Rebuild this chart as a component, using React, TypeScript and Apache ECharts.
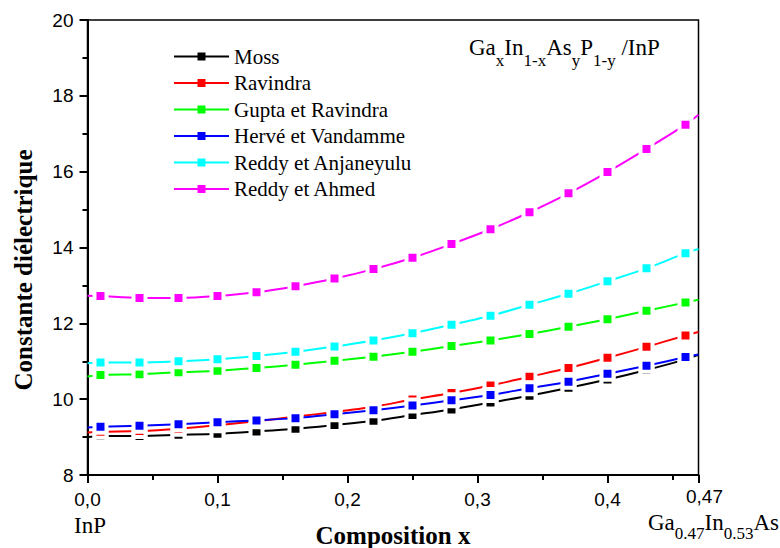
import React, { useEffect, useRef } from 'react';
import * as echarts from 'echarts';

// Composition x of the plotted markers (every 0.03)
const markerX = [0.01, 0.04, 0.07, 0.10, 0.13, 0.16, 0.19, 0.22, 0.25, 0.28, 0.31, 0.34, 0.37, 0.40, 0.43, 0.46];
const xStart = 0;
const xEnd = 0.47;

const seriesNames = ['Moss', 'Ravindra', 'Gupta et Ravindra', 'Hervé et Vandamme', 'Reddy et Anjaneyulu', 'Reddy et Ahmed'];
const seriesColors = ['#000000', '#ff0000', '#00ff00', '#0000ff', '#00ffff', '#ff00ff'];

// values at the markers
const moss = [9.03, 9.03, 9.06, 9.09, 9.15, 9.22, 9.32, 9.43, 9.58, 9.73, 9.91, 10.09, 10.30, 10.52, 10.77, 11.05];
const ravindra = [9.14, 9.16, 9.22, 9.31, 9.42, 9.54, 9.66, 9.80, 9.99, 10.16, 10.36, 10.59, 10.82, 11.09, 11.38, 11.68];
const gupta = [10.64, 10.66, 10.71, 10.75, 10.82, 10.91, 11.01, 11.12, 11.25, 11.40, 11.55, 11.72, 11.91, 12.11, 12.33, 12.55];
const herve = [9.27, 9.30, 9.34, 9.39, 9.44, 9.50, 9.60, 9.71, 9.83, 9.97, 10.11, 10.29, 10.46, 10.67, 10.88, 11.11];
const reddyAnj = [10.97, 10.97, 11.00, 11.05, 11.14, 11.25, 11.39, 11.55, 11.74, 11.96, 12.20, 12.49, 12.78, 13.11, 13.45, 13.85];
const reddyAhm = [12.72, 12.67, 12.67, 12.72, 12.82, 12.98, 13.18, 13.43, 13.73, 14.09, 14.48, 14.93, 15.43, 15.99, 16.60, 17.24];

// curve values at x = 0 (InP) and x = 0.47 (Ga0.47In0.53As)
const startValues = [9.00, 9.12, 10.60, 9.25, 10.95, 12.73];
const endValues = [11.17, 11.77, 12.62, 11.18, 13.96, 17.50];

const seriesValues = [moss, ravindra, gupta, herve, reddyAnj, reddyAhm];

const yTicks = { min: 8, max: 20, interval: 2 };

const SERIF = '"Liberation Serif", "Times New Roman", serif';
const SANS = '"Liberation Sans", Arial, sans-serif';

function fmtX(v: number): string {
  if (Math.abs(v - xEnd) < 1e-9) return '{e|0,47}';
  if (Math.abs(v * 10 - Math.round(v * 10)) < 1e-6) return v.toFixed(1).replace('.', ',');
  return '';
}

export default function App() {
  const ref = useRef<HTMLDivElement>(null);
  useEffect(() => {
    if (!ref.current) return;
    const chart = echarts.init(ref.current, undefined, { renderer: 'svg' });

    const series = seriesNames.map((name, i) => ({
      name,
      type: 'line',
      smooth: 0.3,
      symbol: 'rect',
      symbolSize: 12,
      showSymbol: true,
      lineStyle: { color: seriesColors[i], width: 2 },
      itemStyle: { color: seriesColors[i], borderColor: '#ffffff', borderWidth: 4 },
      emphasis: { disabled: true },
      data: [
        { value: [xStart, startValues[i]], symbol: 'none' },
        ...markerX.map((x, j) => [x, seriesValues[i][j]]),
        { value: [xEnd, endValues[i]], symbol: 'none' },
      ],
      z: 2 + i,
    }));

    const rich = {
      m: { fontFamily: SERIF, fontSize: 23, lineHeight: 43, fill: '#000' },
      s: { fontFamily: SERIF, fontSize: 17, lineHeight: 17, verticalAlign: 'bottom', fill: '#000' },
    };
    const rich2 = {
      m: { fontFamily: SERIF, fontSize: 23, lineHeight: 40, fill: '#000' },
      s: { fontFamily: SERIF, fontSize: 17, lineHeight: 17, verticalAlign: 'bottom', fill: '#000' },
    };

    chart.setOption({
      animation: false,
      backgroundColor: '#ffffff',
      grid: {
        left: 87.5, right: 81.5, top: 20, bottom: 73,
        show: true, borderColor: '#000', borderWidth: 1.5,
        containLabel: false, outerBoundsMode: 'none',
      },
      legend: {
        orient: 'vertical', left: 173, top: 46, padding: 0,
        itemGap: 5.5, itemWidth: 55, itemHeight: 10,
        textStyle: { fontFamily: SERIF, fontSize: 21, color: '#000', lineHeight: 21 },
        itemStyle: { borderWidth: 0 },
        data: seriesNames,
      },
      xAxis: [
        {
          type: 'value', min: 0, max: xEnd, interval: 0.1, position: 'bottom',
          axisLine: { show: true, onZero: false, lineStyle: { color: '#000', width: 2 } },
          axisTick: { show: true, length: 8, lineStyle: { color: '#000', width: 2 } },
          axisLabel: {
            show: true, margin: 15, fontFamily: SANS, fontSize: 19, color: '#000',
            formatter: fmtX, showMaxLabel: true, showMinLabel: true,
            rich: { e: { fontFamily: SANS, fontSize: 19, color: '#000', lineHeight: 13, padding: [0, 0, 0, 12] } },
          },
          splitLine: { show: false },
          name: 'Composition x', nameLocation: 'middle', nameGap: 48,
          nameTextStyle: { fontFamily: SERIF, fontWeight: 'bold', fontSize: 25, color: '#000' },
        },
        {
          type: 'value', min: 0, max: xEnd, interval: 0.05, position: 'bottom', offset: 0,
          axisLine: { show: false, onZero: false },
          axisTick: { show: true, length: 5, lineStyle: { color: '#000', width: 2 } },
          axisLabel: { show: false },
          splitLine: { show: false },
        },
      ],
      yAxis: {
        type: 'value', min: yTicks.min, max: yTicks.max, interval: yTicks.interval,
        axisLine: { show: true, onZero: false, lineStyle: { color: '#000', width: 2 } },
        axisTick: { show: true, length: 8, lineStyle: { color: '#000', width: 2 } },
        minorTick: { show: true, splitNumber: 2, length: 5, lineStyle: { color: '#000', width: 2 } },
        axisLabel: { margin: 14, fontFamily: SANS, fontSize: 19, color: '#000' },
        splitLine: { show: false },
        minorSplitLine: { show: false },
      },
      graphic: [
        {
          type: 'text', x: 469, y: 26, silent: true,
          style: {
            text: '{m|Ga}{s|x}{m|In}{s|1-x}{m|As}{s|y}{m|P}{s|1-y}{m| /InP}',
            rich, align: 'left', verticalAlign: 'top', fill: '#000',
          },
        },
        {
          type: 'text', x: 74, y: 514, silent: true,
          style: { text: 'InP', fontFamily: SERIF, fontSize: 23, fill: '#000', align: 'left', verticalAlign: 'top' },
        },
        {
          type: 'text', x: 648, y: 502, silent: true,
          style: {
            text: '{m|Ga}{s|0.47}{m|In}{s|0.53}{m|As}',
            rich: rich2, align: 'left', verticalAlign: 'top', fill: '#000',
          },
        },
        {
          type: 'text', x: 23.5, y: 270, rotation: Math.PI / 2, silent: true,
          style: {
            text: 'Constante diélectrique', fontFamily: SERIF, fontWeight: 'bold', fontSize: 25,
            fill: '#000', align: 'center', verticalAlign: 'middle',
          },
        },
      ],
      series,
    });
    return () => chart.dispose();
  }, []);
  return <div ref={ref} style={{ position: 'fixed', left: 0, top: 0, width: 780, height: 548, background: '#fff' }} />;
}
